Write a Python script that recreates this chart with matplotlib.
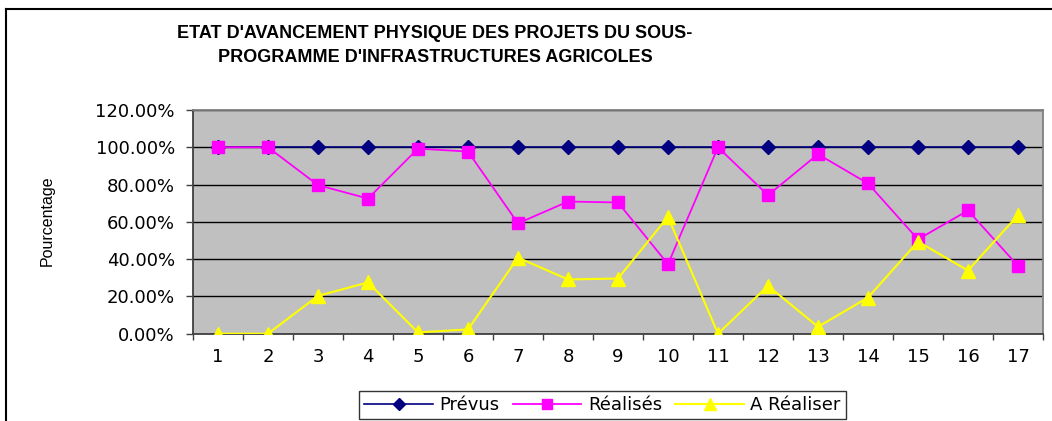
import matplotlib
matplotlib.use("Agg")
import matplotlib.pyplot as plt
from matplotlib.lines import Line2D
from matplotlib.ticker import FuncFormatter, FixedLocator

plt.rcParams['font.family'] = ['DejaVu Sans']

categories = list(range(1, 18))
prevus = [100] * 17
realises = [100, 100, 79.7, 72.5, 99.3, 97.7, 59.2, 70.9, 70.4, 37.3, 100, 74.3, 96.3, 80.6, 50.6, 66.1, 36.4]
a_realiser = [0, 0, 20.3, 27.5, 0.7, 2.3, 40.8, 29.1, 29.6, 62.7, 0, 25.7, 3.7, 19.4, 49.4, 33.9, 63.6]
yticks = [0, 20, 40, 60, 80, 100, 120]

title = "ETAT D'AVANCEMENT PHYSIQUE DES PROJETS DU SOUS-\nPROGRAMME D'INFRASTRUCTURES AGRICOLES"

W, H = 1052, 421
fig = plt.figure(figsize=(W / 100, H / 100), dpi=100)
fig.patch.set_facecolor('white')

# outer chart frame (cropped on right and bottom)
fig.add_artist(Line2D([6 / W, 6 / W], [0, 1 - 9 / H], transform=fig.transFigure, color='black', lw=1.5))
fig.add_artist(Line2D([6 / W, 1], [1 - 9 / H, 1 - 9 / H], transform=fig.transFigure, color='black', lw=1.5))

ax = fig.add_axes([193 / W, 87.3 / H, 850 / W, 223.7 / H])
ax.set_facecolor('#C0C0C0')

ax.plot(categories, prevus, color='#000080', lw=1.2, marker='D', markersize=7,
        markerfacecolor='#000080', markeredgecolor='#000080', label='Prévus', zorder=3)
ax.plot(categories, realises, color='#FF00FF', lw=1.3, marker='s', markersize=8,
        markerfacecolor='#FF00FF', markeredgecolor='#FF00FF', label='Réalisés', zorder=4)
ax.plot(categories, a_realiser, color='#FFFF00', lw=1.5, marker='^', markersize=9.5,
        markerfacecolor='#FFFF00', markeredgecolor='#FFFF00', label='A Réaliser', zorder=5)

ax.set_xlim(0.5, 17.5)
ax.set_ylim(0, 120)
ax.set_yticks(yticks)
ax.yaxis.set_major_formatter(FuncFormatter(lambda v, p: f"{v:.2f}%"))
ax.yaxis.grid(True, color='black', lw=1)
ax.set_axisbelow(True)

ax.set_xticks(categories)
ax.set_xticklabels([str(c) for c in categories])
ax.xaxis.set_minor_locator(FixedLocator([c + 0.5 for c in range(0, 18)]))
ax.tick_params(axis='x', which='major', length=0, pad=10, labelsize=13)
ax.tick_params(axis='x', which='minor', length=4.5, width=1, color='#404040', direction='out')
ax.tick_params(axis='y', which='major', length=5, width=1, color='#404040', direction='out', pad=8, labelsize=13)

for s in ['left', 'bottom']:
    ax.spines[s].set_color('#404040')
    ax.spines[s].set_linewidth(1.3)
for s in ['top', 'right']:
    ax.spines[s].set_color('#808080')
    ax.spines[s].set_linewidth(1.3)

fig.text(47 / W, 1 - 221 / H, 'Pourcentage', rotation=90, ha='center', va='center', fontsize=11.5,
         family=['Liberation Sans', 'DejaVu Sans'])

fig.text(435 / W, 1 - 45.5 / H, title, ha='center', va='center', fontsize=13, fontweight='bold',
         linespacing=1.6, family=['Liberation Sans', 'DejaVu Sans'])

leg = ax.legend(loc='center', bbox_to_anchor=(602.5 / W, 16 / H), bbox_transform=fig.transFigure,
                ncol=3, frameon=True, fancybox=False, edgecolor='black', fontsize=13,
                handlelength=3.8, handletextpad=0.35, columnspacing=0.75, borderpad=0.3,
                markerscale=0.85)
leg.get_frame().set_linewidth(1.0)

fig.savefig('out.png', dpi=100, facecolor='white')
